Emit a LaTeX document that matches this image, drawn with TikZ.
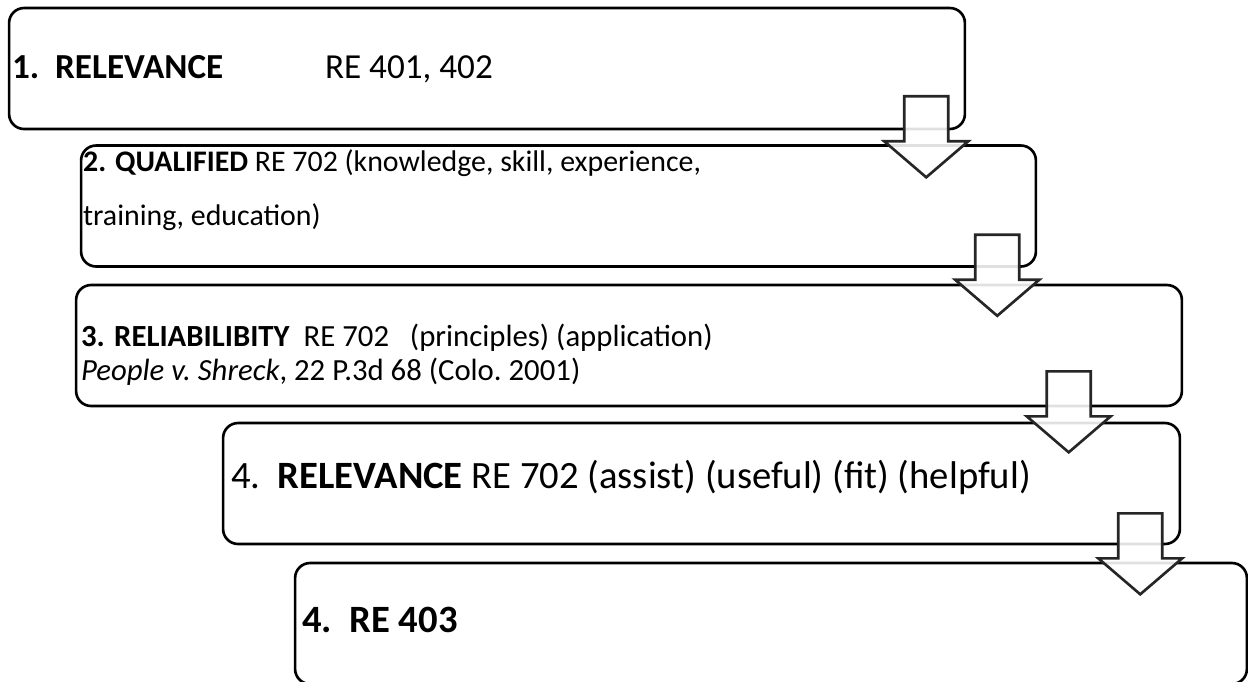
\documentclass[tikz,border=0pt]{standalone}
\usepackage{fontspec}
\setmainfont{Carlito}
\usepackage{xcolor}
\usepackage{tikz}
\usetikzlibrary{positioning}
\definecolor{stepink}{HTML}{000000}
\definecolor{arrowink}{HTML}{262626}

\begin{document}
\begin{tikzpicture}[
  x=0.02cm, y=-0.02cm,
  font=\fontsize{17.5}{19.3}\selectfont,
  stage/.style={draw=stepink, line width=1.5pt, rounded corners=3mm,
    minimum height=2.42cm, inner sep=0pt},
  entry/.style={anchor=base west, align=left, inner sep=0pt},
  big/.style={font=\fontsize{22}{26}\selectfont},
  flow/.style={draw=arrowink, line width=1.5pt, fill=white,
    fill opacity=0.88, line join=miter},
  ]
  \useasboundingbox (0,0) rectangle (1248,681);
  \clip (0,0) rectangle (1248,681);

  % The five stages, stepped down to the right.
  \node[stage, minimum width=19.12cm] (b1) at (487,68.5) {};
  \node[stage, minimum width=19.10cm] (b2) at (558.5,206) {};
  \node[stage, minimum width=22.12cm] (b3) at (629,345.5) {};
  \node[stage, minimum width=19.14cm] (b4) at (701.5,483.5) {};
  \node[stage, minimum width=19.04cm] (b5) at (771,623.5) {};

  % What each stage asks (base anchor sits on the last line).
  \node[entry, font=\fontsize{20}{24}\selectfont] (t1)
    at ([shift={(4,72)}]b1.north west)
    {\makebox[6.26cm][l]{\textbf{1.\ \ RELEVANCE}}RE 401, 402};
  \node[entry, font=\fontsize{17}{19}\selectfont] (t2)
    at ([shift={(3,81)}]b2.north west)
    {\textbf{2. QUALIFIED} RE 702 (knowledge, skill, experience,\\[0.41cm]
     training, education)};
  \node[entry] (t3) at ([shift={(6,97)}]b3.north west)
    {\textbf{3. RELIABILIBITY}\ \ RE 702\ \ \ (principles) (application)\\
     \textit{People v.\ Shreck}, 22 P.3d 68 (Colo.\ 2001)};
  \node[entry, big] (t4) at ([shift={(9,67)}]b4.north west)
    {4.\ \ \textbf{RELEVANCE} RE 702 (assist) (useful) (fit) (helpful)};
  \node[entry, big] (t5) at ([shift={(8,71)}]b5.north west)
    {\textbf{4.\ \ RE 403}};

  % Block arrows from one stage down to the next.
  \foreach \src/\dx/\dy in {b1/-40/-34, b2/-40/-33, b3/-114.5/-36, b4/-41/-32}
    \draw[flow] ([shift={(\dx-22,\dy)}]\src.south east) -- ++(44,0) -- ++(0,45)
      -- ++(20,0) -- ++(-42,36) -- ++(-42,-36) -- ++(20,0) -- cycle;
\end{tikzpicture}
\end{document}
